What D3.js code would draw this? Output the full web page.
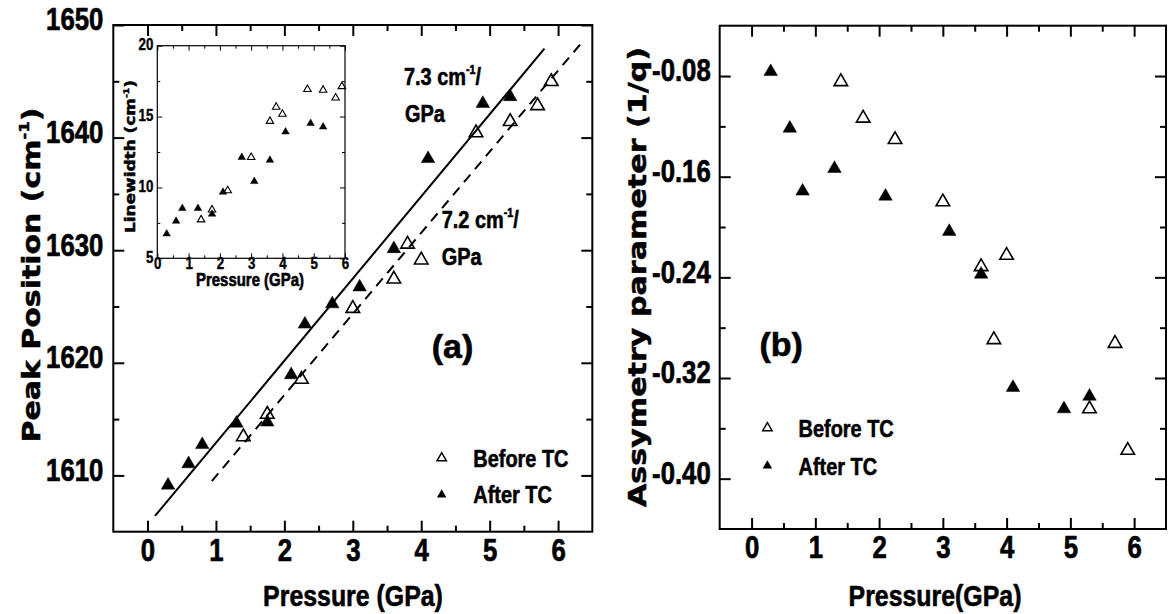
<!DOCTYPE html>
<html>
<head>
<meta charset="utf-8">
<script src="https://cdn.jsdelivr.net/npm/d3@7"></script>
<style>body{margin:0;background:#fff}</style>
</head>
<body>
<svg id="chart"></svg>
<script>
// (a) peak position vs pressure
const aftP = [0.3, 0.6, 0.8, 1.3, 1.75, 2.1, 2.3, 2.7, 3.1, 3.6, 4.1, 4.9, 5.3];
const aftPeak = [1609.3, 1611.2, 1612.9, 1614.8, 1614.9, 1619.1, 1623.6, 1625.4, 1626.9, 1630.3, 1638.3, 1643.2, 1643.8];
const befP = [1.4, 1.75, 2.25, 3.0, 3.6, 3.8, 4.0, 4.8, 5.3, 5.7, 5.9];
const befPeak = [1613.6, 1615.6, 1618.7, 1625.0, 1627.6, 1630.7, 1629.3, 1640.6, 1641.6, 1643.0, 1645.15];
// linear fits (end points)
const aftFitP = [0.11, 5.8];
const aftFitPeak = [1606.4, 1647.9];
const befFitP = [0.94, 6.34];
const befFitPeak = [1609.5, 1648.4];

// inset: linewidth vs pressure
const inAftP = [0.3, 0.6, 0.8, 1.3, 1.75, 2.1, 2.7, 3.1, 3.6, 4.1, 4.9, 5.3];
const inAftW = [6.8, 7.7, 8.6, 8.6, 8.2, 9.75, 12.2, 10.5, 12.0, 14.0, 14.6, 14.35];
const inBefP = [1.4, 1.75, 2.25, 3.0, 3.6, 3.8, 4.0, 4.8, 5.3, 5.7, 5.9];
const inBefW = [7.8, 8.5, 9.85, 12.2, 14.75, 15.75, 15.25, 17.0, 16.95, 16.4, 17.2];

// (b) asymmetry parameter vs pressure
const bAftP = [0.3, 0.6, 0.8, 1.3, 2.1, 3.1, 3.6, 4.1, 4.9, 5.3];
const bAftQ = [-0.075, -0.12, -0.17, -0.152, -0.174, -0.202, -0.236, -0.326, -0.343, -0.333];
const bBefP = [1.4, 1.75, 2.25, 3.0, 3.6, 4.0, 3.8, 5.7, 5.3, 5.9];
const bBefQ = [-0.083, -0.112, -0.129, -0.1785, -0.230, -0.221, -0.288, -0.291, -0.343, -0.376];

// ticks
const pMajor = [0, 1, 2, 3, 4, 5, 6];
const pMinor = [0.5, 1.5, 2.5, 3.5, 4.5, 5.5];
const peakMajor = [1610, 1620, 1630, 1640, 1650];
const peakMinor = [1615, 1625, 1635, 1645];
const wMajor = [5, 10, 15, 20];
const wMinor = [7.5, 12.5, 17.5];
const qMajor = [-0.08, -0.16, -0.24, -0.32, -0.40];
const qMinor = [-0.12, -0.20, -0.28, -0.36];

const width = 1168, height = 614;
const ARIAL = "'Liberation Sans', Arial, sans-serif";
const WIDE = "'DejaVu Sans', sans-serif";
const SQ = 0.83; // horizontal squeeze to get an Arial Narrow look

const svg = d3.select("#chart").attr("width", width).attr("height", height);
svg.append("rect").attr("width", width).attr("height", height).attr("fill", "#fff");

// squeeze text horizontally around its own x anchor
function squash(sel, sx) {
  sel.each(function () {
    const t = d3.select(this);
    const ax = +t.attr("x") || 0;
    t.attr("transform", `translate(${ax},0) scale(${sx},1) translate(${-ax},0)`);
  });
}

// a bit of extra weight, the original glyphs are very heavy
function heavy(sel, w) {
  sel.attr("stroke", "#000").attr("stroke-width", w).attr("stroke-linejoin", "round");
}

// triangle centred on its bounding box, size = side^2
const tri = {
  draw(ctx, size) {
    const s = Math.sqrt(size), h = s * 0.866;
    ctx.moveTo(0, -h / 2);
    ctx.lineTo(s / 2, h / 2);
    ctx.lineTo(-s / 2, h / 2);
    ctx.closePath();
  }
};

function axes(g, x, y, o) {
  const [xl, xr] = x.range(), [yb, yt] = y.range();
  const style = sel => {
    sel.select(".domain").remove();
    sel.selectAll(".tick line").attr("stroke", "#000").attr("stroke-width", o.sw);
    sel.selectAll("text").attr("font-family", ARIAL).attr("font-weight", "bold")
      .attr("font-size", o.fs).attr("fill", "#000").call(heavy, o.tw);
  };
  g.append("g").attr("transform", `translate(0,${yb})`)
    .call(d3.axisBottom(x).tickValues(o.xMajor).tickSize(-o.major).tickPadding(o.xPad).tickFormat(d3.format("d")))
    .call(style)
    .selectAll("text").call(squash, SQ);
  g.append("g").attr("transform", `translate(0,${yb})`)
    .call(d3.axisBottom(x).tickValues(o.xMinor).tickSize(-o.minor).tickFormat("")).call(style);
  g.append("g").attr("transform", `translate(0,${yt})`)
    .call(d3.axisTop(x).tickValues(o.xMajor).tickSize(-o.major).tickFormat("")).call(style);
  g.append("g").attr("transform", `translate(0,${yt})`)
    .call(d3.axisTop(x).tickValues(o.xMinor).tickSize(-o.minor).tickFormat("")).call(style);
  g.append("g").attr("transform", `translate(${xl},0)`)
    .call(d3.axisLeft(y).tickValues(o.yMajor).tickSize(-o.major).tickPadding(o.yPad).tickFormat(o.yFmt))
    .call(style)
    .selectAll("text").attr("dy", o.yDy).call(squash, SQ);
  g.append("g").attr("transform", `translate(${xl},0)`)
    .call(d3.axisLeft(y).tickValues(o.yMinor).tickSize(-o.minor).tickFormat("")).call(style);
  g.append("g").attr("transform", `translate(${xr},0)`)
    .call(d3.axisRight(y).tickValues(o.yMajor).tickSize(-o.major).tickFormat("")).call(style);
  g.append("g").attr("transform", `translate(${xr},0)`)
    .call(d3.axisRight(y).tickValues(o.yMinor).tickSize(-o.minor).tickFormat("")).call(style);
  g.append("rect").attr("x", xl).attr("y", yt).attr("width", xr - xl).attr("height", yb - yt)
    .attr("fill", "none").attr("stroke", "#000").attr("stroke-width", o.frame);
}

function markers(g, xs, ys, x, y, side, filled, sw) {
  g.append("g").selectAll("path").data(xs).join("path")
    .attr("transform", (d, i) => `translate(${x(d)},${y(ys[i])})`)
    .attr("d", d3.symbol().type(tri).size(side * side))
    .attr("fill", filled ? "#000" : "none")
    .attr("stroke", "#000").attr("stroke-width", filled ? 0.5 : sw);
}

function boldText(g, x, y, txt, fs, sx) {
  const t = g.append("text").attr("x", x).attr("y", y).attr("font-family", ARIAL)
    .attr("font-weight", "bold").attr("font-size", fs).attr("fill", "#000").text(txt)
    .call(heavy, 0.6);
  t.call(squash, sx || SQ);
  return t;
}

function rotTitle(g, cx, cy, main, sup, tail, fs, len) {
  const t = g.append("text").attr("transform", `translate(${cx},${cy}) rotate(-90)`)
    .attr("text-anchor", "middle").attr("font-family", WIDE).attr("font-weight", "bold")
    .attr("font-size", fs).attr("fill", "#000").call(heavy, 0.5);
  t.append("tspan").text(main);
  if (sup) {
    t.append("tspan").attr("dy", -fs * 0.45).attr("font-size", fs * 0.55).text(sup);
    t.append("tspan").attr("dy", fs * 0.45).text(tail);
  }
  t.attr("textLength", len).attr("lengthAdjust", "spacingAndGlyphs");
  return t;
}

function legend(g, mx, tx, y1, b1, y2, b2, side) {
  g.append("path").attr("transform", `translate(${mx},${y1})`)
    .attr("d", d3.symbol().type(tri).size(side * side)).attr("fill", "none")
    .attr("stroke", "#000").attr("stroke-width", 1.4);
  g.append("path").attr("transform", `translate(${mx},${y2})`)
    .attr("d", d3.symbol().type(tri).size(side * side)).attr("fill", "#000");
  boldText(g, tx, b1, "Before TC", 24);
  boldText(g, tx, b2, "After TC", 24);
}

// ---------- panel (a)
const ga = svg.append("g");
const xa = d3.scaleLinear().domain([-0.5, 6.5]).range([113.3, 592.3]);
const ya = d3.scaleLinear().domain([1605, 1650]).range([531.7, 25]);
axes(ga, xa, ya, {
  xMajor: pMajor, xMinor: pMinor, yMajor: peakMajor, yMinor: peakMinor,
  major: 11, minor: 6, sw: 2, frame: 2, fs: 31, tw: 0.7, xPad: 7, yPad: 10, yDy: "0.16em",
  yFmt: d3.format("d")
});

const lineA = d3.line().x(d => xa(d[0])).y(d => ya(d[1]));
ga.append("path").attr("d", lineA(d3.zip(aftFitP, aftFitPeak)))
  .attr("fill", "none").attr("stroke", "#000").attr("stroke-width", 2);
ga.append("path").attr("d", lineA(d3.zip(befFitP, befFitPeak)))
  .attr("fill", "none").attr("stroke", "#000").attr("stroke-width", 2).attr("stroke-dasharray", "10,7");

markers(ga, befP, befPeak, xa, ya, 13.5, false, 1.6);
markers(ga, aftP, aftPeak, xa, ya, 13.5, true);

// slope labels
function slopeLabel(g, x, y, val) {
  const t = boldText(g, x, y, "", 24);
  t.append("tspan").text(`${val} cm`);
  t.append("tspan").attr("dy", -11).attr("font-size", 13).text("-1");
  t.append("tspan").attr("dy", 11).text("/");
}
slopeLabel(ga, 404, 85, "7.3");
boldText(ga, 405, 122, "GPa", 24);
slopeLabel(ga, 441.7, 228.5, "7.2");
boldText(ga, 441.7, 265, "GPa", 24);
boldText(ga, 431.7, 358, "(a)", 34, 1);

legend(ga, 441.7, 473.3, 456.7, 466.7, 493.3, 503.3, 9.5);

boldText(ga, 353, 606, "Pressure (GPa)", 30).attr("text-anchor", "middle");
rotTitle(ga, 40, 275, "Peak Position (cm", "-1", ")", 25, 335);

// ---------- inset
const gi = svg.append("g");
const xi = d3.scaleLinear().domain([0, 6]).range([157.3, 345]);
const yi = d3.scaleLinear().domain([5, 20]).range([258.3, 45.7]);
gi.append("rect").attr("x", 157.3).attr("y", 45.7).attr("width", 187.7).attr("height", 212.6).attr("fill", "#fff");
axes(gi, xi, yi, {
  xMajor: pMajor, xMinor: pMinor, yMajor: wMajor, yMinor: wMinor,
  major: 5, minor: 3, sw: 1, frame: 1.2, fs: 16, tw: 0.4, xPad: -1, yPad: 4, yDy: "0.25em",
  yFmt: d3.format("d")
});
markers(gi, inBefP, inBefW, xi, yi, 7.5, false, 1.1);
markers(gi, inAftP, inAftW, xi, yi, 7.5, true);
boldText(gi, 250, 286, "Pressure (GPa)", 18).attr("text-anchor", "middle");
rotTitle(gi, 135, 156.5, "Linewidth (cm", "-1", ")", 14, 153);

// ---------- panel (b)
const gb = svg.append("g");
const xb = d3.scaleLinear().domain([-0.5, 6.5]).range([719.7, 1166]);
const yb = d3.scaleLinear().domain([-0.44, -0.04]).range([529, 25.7]);
axes(gb, xb, yb, {
  xMajor: pMajor, xMinor: pMinor, yMajor: qMajor, yMinor: qMinor,
  major: 11, minor: 6, sw: 2, frame: 2, fs: 31, tw: 0.7, xPad: 7, yPad: 9, yDy: "0.16em",
  yFmt: d => d.toFixed(2)
});
markers(gb, bBefP, bBefQ, xb, yb, 13.5, false, 1.6);
markers(gb, bAftP, bAftQ, xb, yb, 13.5, true);
boldText(gb, 759.4, 356, "(b)", 34, 1);
legend(gb, 767.4, 798.6, 426.7, 436.7, 464.3, 475, 9.5);
boldText(gb, 935, 606, "Pressure(GPa)", 30).attr("text-anchor", "middle");
rotTitle(gb, 646, 277, "Assymetry parameter (1/q)", null, null, 25, 460);
</script>
</body>
</html>
